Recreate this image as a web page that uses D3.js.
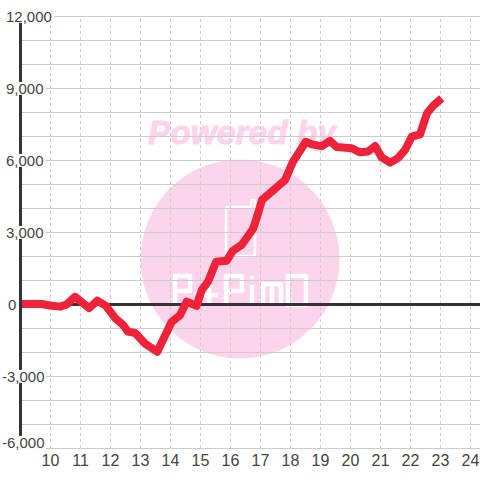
<!DOCTYPE html>
<html>
<head>
<meta charset="utf-8">
<script src="https://cdnjs.cloudflare.com/ajax/libs/d3/7.8.5/d3.min.js"></script>
<style>
body { margin: 0; background: #fff; }
svg { display: block; }
text { font-family: "Liberation Sans", Arial, sans-serif; }
</style>
</head>
<body>
<svg id="drawing_region"></svg>
<script>
// hour of day / value
const hours = [9, 9.71, 9.98, 10.32, 10.54, 10.82, 11.29, 11.56, 11.85, 12.15, 12.42, 12.58, 12.82, 13.15, 13.56,
    14.04, 14.32, 14.54, 14.87, 15.04, 15.25, 15.52, 15.87, 16.08, 16.37, 16.75, 16.85, 17.05, 17.82, 18.08, 18.51,
    18.71, 19.04, 19.32, 19.54, 20.04, 20.32, 20.58, 20.82, 21.04, 21.32, 21.58, 21.82, 22.04, 22.32, 22.55, 22.75, 23.04];
const values = [0, 0, -60, -110, -20, 300, -170, 140, -80, -580, -875, -1150, -1210, -1650, -1990,
    -740, -460, 100, -80, 580, 930, 1760, 1800, 2220, 2460, 3125, 3500, 4330, 5170, 5920, 6760,
    6650, 6580, 6800, 6540, 6490, 6320, 6350, 6580, 6110, 5890, 6080, 6420, 6970, 7070, 7950, 8250, 8570];
const xTicks = [10, 11, 12, 13, 14, 15, 16, 17, 18, 19, 20, 21, 22, 23, 24];
const yGrid = [-6000, -5000, -4000, -3000, -2000, -1000, 0, 1000, 2000, 3000, 4000, 5000, 6000, 7000, 8000, 9000, 10000, 11000, 12000];
const yLabels = [12000, 9000, 6000, 3000, 0, -3000, -6000];

const width = 480, height = 480;
const margin = {top: 16, right: 0, bottom: 32, left: 20};

const svg = d3.select('#drawing_region')
    .attr('width', width)
    .attr('height', height);

const xscale = d3.scaleLinear()
    .domain([9, 25])
    .range([margin.left, margin.left + 480]);

const yscale = d3.scaleLinear()
    .domain([12000, -6000])
    .range([margin.top, height - margin.bottom]);

// watermark
const mark = svg.append('g');
mark.append('circle')
    .attr('cx', 240)
    .attr('cy', 259)
    .attr('r', 99.5)
    .attr('fill', '#fcd5ec');
mark.append('text')
    .attr('x', 148)
    .attr('y', 144)
    .attr('font-size', 33)
    .attr('font-weight', 'bold')
    .attr('font-style', 'italic')
    .attr('textLength', 188)
    .attr('lengthAdjust', 'spacingAndGlyphs')
    .attr('fill', '#fcd5ec')
    .attr('stroke', '#fcd5ec')
    .attr('stroke-width', 1)
    .text('Powered by');
// logo outline and lettering
mark.append('path')
    .attr('d', 'M251,207 H229 Q226,207 226,210 V253 Q226,256 229,256 H252 Q255,256 255,253 V202 Q255,200 253,200 Q251,200 251,202 Z')
    .attr('fill', 'none')
    .attr('stroke', '#fff')
    .attr('stroke-width', 2.5);
mark.append('path')
    .attr('d', 'M175,306 V276 H190 V291 H175'
        + ' M196,295 L209,276 V306 M196,295 H218'
        + ' M226,306 V276 H242 V291 H226'
        + ' M252,276 V279 M252,285 V306'
        + ' M263,306 V284 H281 V306 M272,284 V306'
        + ' M288,276 H306 V305 H288 Z')
    .attr('fill', 'none')
    .attr('stroke', '#fff')
    .attr('stroke-width', 4.5)
    .attr('stroke-linejoin', 'round');

// grid
const ygrid = svg.append('g')
    .attr('transform', `translate(${margin.left}, 0)`)
    .call(d3.axisLeft(yscale).tickValues(yGrid).tickSize(-(width - margin.left)).tickFormat(''));
ygrid.select('.domain').remove();
ygrid.selectAll('line').attr('stroke', '#ccc');

const xgrid = svg.append('g')
    .attr('transform', `translate(0, ${yscale(-6000)})`)
    .call(d3.axisBottom(xscale).tickValues(xTicks).tickSize(-(yscale(-6000) - yscale(12000))).tickFormat(''));
xgrid.select('.domain').remove();
xgrid.selectAll('line')
    .attr('stroke', '#ccc')
    .attr('stroke-dasharray', '3,3');

// zero line
svg.append('line')
    .attr('x1', margin.left)
    .attr('x2', width)
    .attr('y1', yscale(0) + 0.5)
    .attr('y2', yscale(0) + 0.5)
    .attr('stroke', '#333')
    .attr('stroke-width', 3);

// series
const line = d3.line()
    .x(d => xscale(d) + 0.5)
    .y((d, i) => yscale(values[i]));

svg.append('path')
    .attr('d', line(hours))
    .attr('fill', 'none')
    .attr('stroke', '#ee2238')
    .attr('stroke-width', 8)
    .attr('stroke-linejoin', 'round');

// left axis goes over the series
svg.append('line')
    .attr('x1', margin.left + 0.5)
    .attr('x2', margin.left + 0.5)
    .attr('y1', yscale(12000))
    .attr('y2', yscale(-6000))
    .attr('stroke', '#333')
    .attr('stroke-width', 3);

// y labels sit on white boxes which cut the axis and the grid
const ylabel = svg.selectAll('.ylabel')
    .data(yLabels)
    .enter()
    .append('g')
    .attr('class', 'ylabel');
ylabel.append('rect').attr('fill', '#fff');
ylabel.append('text')
    .attr('x', d => d < 0 ? 2 : (d === 0 ? 8 : 6))
    .attr('y', d => (d === -6000 ? yscale(d) - 6 : yscale(d)) + 0.5)
    .attr('dy', '0.36em')
    .attr('font-size', 15)
    .attr('fill', '#444')
    .text(d => d3.format(',')(d).replace('\u2212', '-'));
ylabel.each(function() {
    const box = d3.select(this).select('text').node().getBBox();
    const cy = box.y + box.height / 2;
    d3.select(this).select('rect')
        .attr('x', box.x)
        .attr('y', cy - 6.5)
        .attr('width', box.width + 1.5)
        .attr('height', 13);
});

// x labels
svg.selectAll('.xlabel')
    .data(xTicks)
    .enter()
    .append('text')
    .attr('class', 'xlabel')
    .attr('x', d => xscale(d) + 0.5)
    .attr('y', 466)
    .attr('text-anchor', 'middle')
    .attr('font-size', 16)
    .attr('fill', '#444')
    .text(d => d);
</script>
</body>
</html>
